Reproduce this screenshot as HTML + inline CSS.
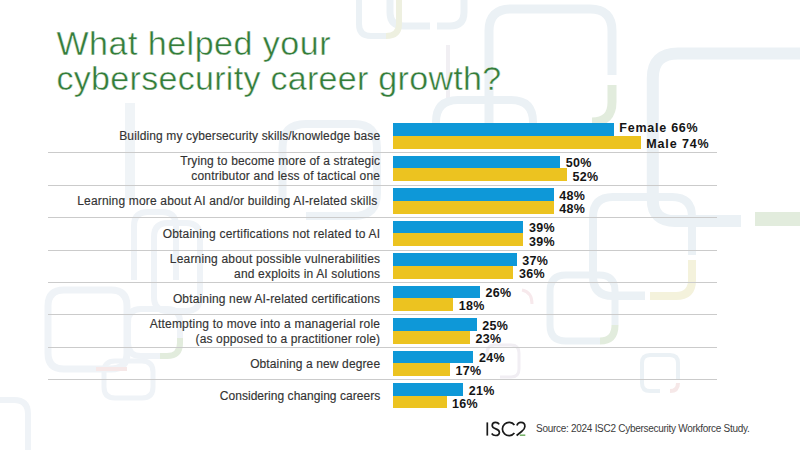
<!DOCTYPE html>
<html><head><meta charset="utf-8"><style>
html,body{margin:0;padding:0;}
body{width:800px;height:450px;position:relative;overflow:hidden;background:#fff;font-family:"Liberation Sans",sans-serif;}
.deco{position:absolute;left:0;top:0;}
.t{position:absolute;left:56.5px;font-size:34px;line-height:36px;color:#347d3a;white-space:nowrap;-webkit-text-stroke:0.45px #fff;}
.b{position:absolute;left:393.0px;}
.bl{height:12.5px;background:#0e98d8;}
.ye{height:12.8px;background:#ecc320;}
.sep{position:absolute;left:48px;width:669px;height:1px;background:#cbcbcb;}
.lb{position:absolute;right:419.80px;font-size:12px;line-height:15px;color:#333;white-space:nowrap;letter-spacing:0.13px;-webkit-text-stroke:0.15px #333;}
.v{position:absolute;font-size:12.5px;line-height:15px;font-weight:bold;color:#141414;white-space:nowrap;letter-spacing:0.3px;}
.src{position:absolute;left:536px;font-size:10px;line-height:12px;color:#3c3c3c;white-space:nowrap;letter-spacing:-0.28px;}
</style></head><body>
<svg class="deco" width="800" height="450" viewBox="0 0 800 450" fill="none" stroke-linecap="butt">
<g stroke="#ebf1f5">
<!-- big top right -->
<path d="M800 53.4 H678 Q652.8 53.4 652.8 78 V200 Q652.8 221 675 221 H741" stroke-width="12"/>
<!-- rect A -->
<path d="M489 140 V31 Q489 9 511 9 H590 Q612 9 612 31 V75" stroke-width="9"/>
<!-- rect B top small -->
<path d="M390 0 V12 Q390 26 404 26 H430 M437 26 H450 Q464 26 464 12 V0" stroke-width="7"/>
<path d="M359 0 V24 Q359 36 371 36 H386" stroke-width="6"/>
<path d="M448 45 V100" stroke-width="4" stroke="#f1eff3"/>
<!-- rect C -->
<path d="M436 130 V122 Q436 100 458 100 H511 Q533 100 533 122 V125" stroke-width="8"/>
<!-- rect D -->
<path d="M645 296 H613 Q593 296 593 276 V217 Q593 197 613 197 H672 Q692 197 692 217 V255" stroke-width="8"/>
<!-- rect E -->
<path d="M660 391 H650 Q642 391 642 383 V363 Q642 355 650 355 H670 Q678 355 678 363 V380" stroke-width="4"/>
<!-- rect F -->
<path d="M600 341 H566 Q550 341 550 325 V291 Q550 275 566 275 H599 Q615 275 615 291 V325" stroke-width="7"/>
<path d="M613 295 H645" stroke-width="7"/>
<!-- left rects -->
<path stroke="#eff3f7" d="M48 310 V306 Q48 290 64 290 H111 Q127 290 127 306 V353 Q127 369 111 369 H64 Q48 369 48 353 Z" stroke-width="7"/>
<path stroke="#eff3f7" d="M134 280 V226 Q134 212 148 212 H162 Q176 212 176 226 V280" stroke-width="6"/>
<path stroke="#eff3f7" d="M154 290 V237 Q154 223 168 223 H186 Q200 223 200 237 V297 Q200 311 186 311 H168 Q154 311 154 297 Z" stroke-width="6"/>
<path stroke="#eff3f7" d="M165 356 H141 Q128 356 128 343 V322 Q128 309 141 309 H167 Q180 309 180 322 V338" stroke-width="6"/>
<path stroke="#eff3f7" d="M104 380 V372 Q104 361 115 361 H142 Q153 361 153 372 V387 Q153 398 142 398 H115 Q104 398 104 387 Z" stroke-width="5"/>
<path stroke="#eff3f7" d="M0 400 H14 Q28 400 28 414 V450" stroke-width="6"/>
<path d="M130 103 V200" stroke-width="10" stroke="#f0f4f7"/>
<path d="M282.5 200 V148 Q282.5 124 306 124 H354 Q377 124 377 148 V193 Q377 216 354 216 H306" stroke-width="8" stroke="#edf2f6"/>
</g>
<g stroke="#e2ecdd">
<path d="M386 36 Q399 36 399 24 V0" stroke-width="6" stroke="#eef0e0"/>
<path d="M612 85 V102 Q612 122 592 122" stroke-width="9"/>
<path d="M755 219 H800" stroke-width="14"/>
<path d="M615 325 Q615 341 600 341" stroke-width="7"/>
<path d="M180 338 V343 Q180 356 167 356 H160" stroke-width="6"/>
</g>
<g stroke="#f4f2dc">
<path d="M692 260 V280 Q692 296 676 296 H650" stroke-width="8"/>
</g>
<g stroke="#f6e8e8">
<path d="M487 360 V353 Q487 345 495 345 H511 Q519 345 519 353 V369 Q519 377 511 377 H500" stroke-width="3" stroke="#f1eef3"/>
<path d="M522 290 Q532 292 532 304" stroke-width="3" stroke="#f7e9ec"/>
<path d="M96 369 H127" stroke-width="4"/>
<path d="M678 383 Q678 391 670 391" stroke-width="4"/>
</g>
</svg>

<div class="t" style="top:24.50px;letter-spacing:0.5px">What helped your</div>
<div class="t" style="top:60.00px;letter-spacing:0.3px">cybersecurity career growth?</div>
<div class="b bl" style="top:123.40px;width:220.77px"></div><div class="b ye" style="top:135.90px;width:247.53px"></div><div class="sep" style="top:152px"></div><div class="lb" style="top:129.40px;letter-spacing:0.117px;right:419.80px">Building my cybersecurity skills/knowledge base</div><div class="v" style="top:121.40px;left:619.37px"><span style="letter-spacing:0.75px">Female 66%</span></div><div class="v" style="top:137.00px;left:646.13px"><span style="letter-spacing:0.9px">Male 74%</span></div><div class="b bl" style="top:155.87px;width:167.25px"></div><div class="b ye" style="top:168.37px;width:173.94px"></div><div class="sep" style="top:185px"></div><div class="lb" style="top:154.17px;letter-spacing:0.141px;right:419.80px">Trying to become more of a strategic</div><div class="lb" style="top:169.37px;letter-spacing:0.190px;right:419.80px">contributor and less of tactical one</div><div class="v" style="top:156.37px;left:565.85px">50%</div><div class="v" style="top:169.57px;left:572.54px">52%</div><div class="b bl" style="top:188.34px;width:160.56px"></div><div class="b ye" style="top:200.84px;width:160.56px"></div><div class="sep" style="top:217px"></div><div class="lb" style="top:194.34px;letter-spacing:0.168px;right:422.50px">Learning more about AI and/or building AI-related skills</div><div class="v" style="top:188.84px;left:559.16px">48%</div><div class="v" style="top:202.04px;left:559.16px">48%</div><div class="b bl" style="top:220.81px;width:130.46px"></div><div class="b ye" style="top:233.31px;width:130.46px"></div><div class="sep" style="top:250px"></div><div class="lb" style="top:226.81px;letter-spacing:0.209px;right:419.80px">Obtaining certifications not related to AI</div><div class="v" style="top:221.31px;left:529.06px">39%</div><div class="v" style="top:234.51px;left:529.06px">39%</div><div class="b bl" style="top:253.28px;width:123.77px"></div><div class="b ye" style="top:265.78px;width:120.42px"></div><div class="sep" style="top:282px"></div><div class="lb" style="top:251.58px;letter-spacing:0.176px;right:419.80px">Learning about possible vulnerabilities</div><div class="lb" style="top:266.78px;letter-spacing:0.167px;right:419.80px">and exploits in AI solutions</div><div class="v" style="top:253.78px;left:522.37px">37%</div><div class="v" style="top:266.98px;left:519.02px">36%</div><div class="b bl" style="top:285.75px;width:86.97px"></div><div class="b ye" style="top:298.25px;width:60.21px"></div><div class="sep" style="top:314px"></div><div class="lb" style="top:291.75px;letter-spacing:0.151px;right:419.80px">Obtaining new AI-related certifications</div><div class="v" style="top:286.25px;left:485.57px">26%</div><div class="v" style="top:299.45px;left:458.81px">18%</div><div class="b bl" style="top:318.22px;width:83.62px"></div><div class="b ye" style="top:330.72px;width:76.94px"></div><div class="sep" style="top:347px"></div><div class="lb" style="top:316.52px;letter-spacing:0.203px;right:419.80px">Attempting to move into a managerial role</div><div class="lb" style="top:331.72px;letter-spacing:0.150px;right:419.80px">(as opposed to a practitioner role)</div><div class="v" style="top:318.72px;left:482.23px">25%</div><div class="v" style="top:331.92px;left:475.54px">23%</div><div class="b bl" style="top:350.69px;width:80.28px"></div><div class="b ye" style="top:363.19px;width:56.87px"></div><div class="sep" style="top:379px"></div><div class="lb" style="top:356.69px;letter-spacing:0.120px;right:419.80px">Obtaining a new degree</div><div class="v" style="top:351.19px;left:478.88px">24%</div><div class="v" style="top:364.39px;left:455.47px">17%</div><div class="b bl" style="top:383.16px;width:70.25px"></div><div class="b ye" style="top:395.66px;width:53.52px"></div><div class="lb" style="top:389.16px;letter-spacing:0.034px;right:419.80px">Considering changing careers</div><div class="v" style="top:383.66px;left:468.85px">21%</div><div class="v" style="top:396.86px;left:452.12px">16%</div>
<svg style="position:absolute;left:478px;top:415px" width="52" height="25" viewBox="478 415 52 25" fill="none" stroke="#1a1a1a" stroke-width="1.7">
<path d="M487.3 422.4 V435.6"/>
<path d="M499.2 424.4 C498.4 423 497.2 422.4 495.6 422.4 C493.5 422.4 492.2 423.7 492.2 425.5 C492.2 429.7 499.4 428 499.4 432.2 C499.4 434.2 497.8 435.5 495.6 435.5 C493.8 435.5 492.5 434.8 491.7 433.5"/>
<path d="M514.4 424.9 A6.7 6.7 0 1 0 514.4 433.1"/>
<path d="M516.9 425.4 C517.6 423.3 519.2 422.4 520.9 422.4 C523.3 422.4 524.9 424.1 524.9 426.4 C524.9 428.5 523.6 429.9 521.6 431.5 L516.6 435.5"/>
<path d="M519.8 435.2 H525.3" stroke="#6fae62" stroke-width="1.5"/>
</svg>

<div class="src" style="top:423.30px">Source: 2024 ISC2 Cybersecurity Workforce Study.</div>
</body></html>
